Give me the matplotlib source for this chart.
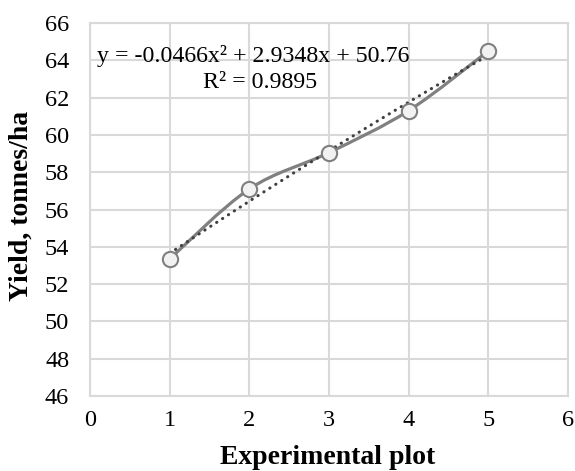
import numpy as np
import matplotlib
matplotlib.use("Agg")
import matplotlib.pyplot as plt
from matplotlib.path import Path
from matplotlib.patches import PathPatch

plt.rcParams['font.family'] = ['Liberation Serif', 'DejaVu Serif']

# données
plots = [1, 2, 3, 4, 5]
yield_t = [53.35, 57.1, 59.05, 61.3, 64.5]
# courbe de tendance (polynôme ordre 2) telle qu'affichée
coef = [-0.0466, 2.9348, 50.76]
eq_text = "y = -0.0466x² + 2.9348x + 50.76"
r2_text = "R² = 0.9895"

fig = plt.figure(figsize=(5.75, 4.71), dpi=100)
ax = fig.add_axes([0.1565, 0.1592, 0.8313, 0.792])

grid_c = "#D9D9D9"
line_c = "#808080"

# ligne lissée façon Excel (bezier catmull-rom)
x = np.array(plots, dtype=float)
y = np.array(yield_t, dtype=float)
verts = [(x[0], y[0])]
codes = [Path.MOVETO]
n = len(x)
for i in range(n - 1):
    p0 = (x[i - 1], y[i - 1]) if i > 0 else (x[i], y[i])
    p1 = (x[i], y[i])
    p2 = (x[i + 1], y[i + 1])
    p3 = (x[i + 2], y[i + 2]) if i + 2 < n else (x[i + 1], y[i + 1])
    c1 = (p1[0] + (p2[0] - p0[0]) / 6, p1[1] + (p2[1] - p0[1]) / 6)
    c2 = (p2[0] - (p3[0] - p1[0]) / 6, p2[1] - (p3[1] - p1[1]) / 6)
    verts += [c1, c2, p2]
    codes += [Path.CURVE4] * 3
ax.add_patch(PathPatch(Path(verts, codes), facecolor="none", edgecolor=line_c,
                       lw=2.3, capstyle="round", zorder=3))

# tendance
xt = np.linspace(plots[0], plots[-1], 100)
ax.plot(xt, np.polyval(coef, xt), linestyle=(0, (0.1, 2.2)), dash_capstyle="round",
        color="#404040", lw=2.2, zorder=4)

ax.plot(plots, yield_t, linestyle="none", marker="o", ms=11, mfc="#F2F2F2",
        mec=line_c, mew=1.5, zorder=5)

ax.set_xlim(0, 6)
ax.set_ylim(46, 66)
ax.set_xticks(range(0, 7))
ax.set_yticks(range(46, 67, 2))
ax.grid(True, color=grid_c, lw=1.5)
ax.set_axisbelow(True)
for s in ax.spines.values():
    s.set_color(grid_c)
    s.set_linewidth(1.5)
ax.tick_params(length=0, labelsize=17.5, colors="black")
ax.tick_params(axis="y", pad=15)
ax.tick_params(axis="x", pad=10)

fig.text(328 / 575, 1 - 464 / 471, "Experimental plot", fontsize=20,
         fontweight="bold", ha="center", va="baseline")
fig.text(21 / 575, 1 - 206 / 471, "Yield, tonnes/ha", fontsize=20,
         fontweight="bold", ha="center", va="center", rotation=90)

fig.text(97 / 575, 1 - 56 / 471, eq_text, fontsize=17.2, ha="left", va="center")
fig.text(203 / 575, 1 - 83 / 471, r2_text, fontsize=17.2, ha="left", va="center")

fig.savefig("out.png", dpi=100)
